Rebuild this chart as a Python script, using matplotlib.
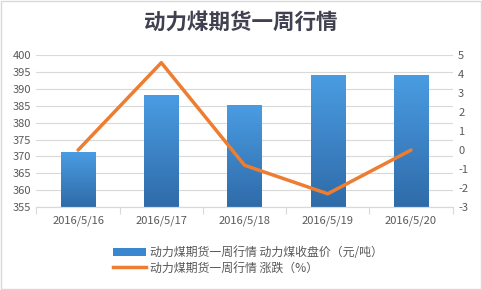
import numpy as np
import matplotlib
matplotlib.use("Agg")
import matplotlib.pyplot as plt
from matplotlib.colors import LinearSegmentedColormap
from matplotlib.patches import Rectangle, Patch
from matplotlib.lines import Line2D

plt.rcParams['font.family'] = ['Noto Sans CJK SC', 'DejaVu Sans']
plt.rcParams['axes.unicode_minus'] = False

# data
dates = ['2016/5/16', '2016/5/17', '2016/5/18', '2016/5/19', '2016/5/20']
close_price = [371, 388, 385, 394, 394]
change_pct = [0.0, 4.6, -0.8, -2.3, 0.0]
left_ticks = [355, 360, 365, 370, 375, 380, 385, 390, 395, 400]
right_ticks = [-3, -2, -1, 0, 1, 2, 3, 4, 5]

title = '动力煤期货一周行情'
bar_label = '动力煤期货一周行情 动力煤收盘价（元/吨）'
line_label = '动力煤期货一周行情 涨跌（%）'

text_color = '#595959'
grid_color = '#d9d9d9'
line_color = '#ED7D31'

fig = plt.figure(figsize=(4.82, 2.90), dpi=100)
ax = fig.add_axes([0.0757, 0.286, 0.8633, 0.524])
ax2 = ax.twinx()

x = np.arange(len(dates))
bars = ax.bar(x, close_price, width=0.41, color='#3a86cf', zorder=2, label=bar_label)

# vertical gradient fill for each bar
cmap = LinearSegmentedColormap.from_list('blue_grad', ['#2f6ba9', '#4a9ce2'])
grad = np.linspace(0, 1, 256).reshape(-1, 1)
for b in bars:
    bx, by = b.get_x(), b.get_y()
    bw, bh = b.get_width(), b.get_height()
    ax.imshow(grad, cmap=cmap, origin='lower', aspect='auto',
              extent=(bx, bx + bw, 355, by + bh), zorder=2)
    b.set_alpha(0)

ax.set_xlim(-0.5, len(dates) - 0.5)
ax.set_ylim(355, 400)
ax.set_yticks(left_ticks)
ax.grid(axis='y', color=grid_color, linewidth=0.8, zorder=0)
ax.set_axisbelow(True)

ax2.plot(x, change_pct, color=line_color, linewidth=2.5, zorder=3,
         solid_capstyle='round', label=line_label)
ax2.set_ylim(-3, 5)
ax2.set_yticks(right_ticks)

for a in (ax, ax2):
    for s in ('top', 'left', 'right'):
        a.spines[s].set_visible(False)
    a.spines['bottom'].set_color(grid_color)
    a.tick_params(axis='y', length=0, labelsize=8, labelcolor=text_color, pad=4)

ax.set_xticks(x)
ax.set_xticklabels(dates)
ax.tick_params(axis='x', length=0, labelsize=8, labelcolor=text_color, pad=6)
ax.set_xticks(np.arange(-0.5, len(dates)), minor=True)
ax.tick_params(axis='x', which='minor', length=5, color=grid_color, width=0.8)

fig.text(0.5, 0.925, title, ha='center', va='center', fontsize=15.5,
         color='#404050', fontweight='bold')

# legend below plot
handles = [Patch(facecolor='#3a86cf', edgecolor='none'),
           Line2D([0], [0], color=line_color, linewidth=2.5)]
fig.legend(handles, [bar_label, line_label], loc='upper left',
           bbox_to_anchor=(0.222, 0.172), frameon=False, fontsize=8.6,
           labelcolor=text_color, handlelength=2.8, handleheight=0.6,
           handletextpad=0.3, labelspacing=0.2, borderpad=0)

# outer chart border
fig.patches.append(Rectangle((0.002, 0.003), 0.995, 0.994, transform=fig.transFigure,
                             fill=False, edgecolor='#d9d9d9', linewidth=1))

fig.savefig('out.png', dpi=100)
